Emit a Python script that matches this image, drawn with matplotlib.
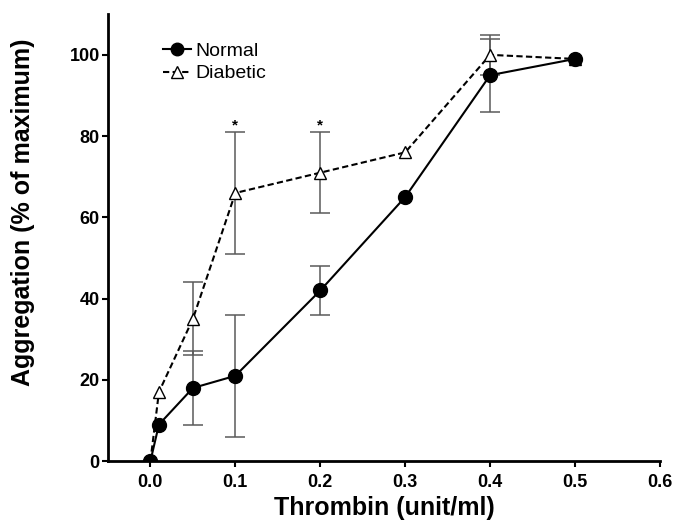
import numpy as np
import matplotlib.pyplot as plt

plt.rcParams['font.family'] = ['Liberation Sans', 'DejaVu Sans']

# Thrombin doses (unit/ml)
dose = [0.0, 0.01, 0.05, 0.1, 0.2, 0.3, 0.4, 0.5]

# Aggregation, % of maximum
normal = [0, 9, 18, 21, 42, 65, 95, 99]
normal_err = [0, 0, 9, 15, 6, 0, 9, 0]
diabetic = [0, 17, 35, 66, 71, 76, 100, 99]
diabetic_err = [0, 0, 9, 15, 10, 0, 5, 0]

# significance marks
sig_dose = [0.1, 0.2]
sig_y = [81, 81]

fig = plt.figure(figsize=(6.79, 5.27), dpi=100)
ax = fig.add_axes([0.159, 0.125, 0.813, 0.848])

# error bars only where there is an SD (grey, drawn under the markers)
for yv, ev in [(diabetic, diabetic_err), (normal, normal_err)]:
    d = np.array(dose)
    y = np.array(yv)
    e = np.array(ev)
    m = e > 0
    ax.errorbar(d[m], y[m], yerr=e[m], fmt='none', ecolor='#5a5a5a',
                elinewidth=1.1, capsize=7, capthick=1.1, zorder=1)

ax.plot(dose, diabetic, linestyle=(0, (3, 1.6)), color='black', lw=1.5, marker='^',
        markersize=9, markerfacecolor='white', markeredgecolor='black',
        markeredgewidth=1.0, label='Diabetic', zorder=3)
ax.plot(dose, normal, linestyle='-', color='black', lw=1.5, marker='o',
        markersize=10, markerfacecolor='black', markeredgecolor='black',
        label='Normal', zorder=4)

for x, y in zip(sig_dose, sig_y):
    ax.text(x, y, '*', ha='center', va='bottom', fontsize=11, fontweight='bold')

ax.set_xlim(-0.05, 0.6)
ax.set_ylim(0, 110)
ax.set_xticks([0.0, 0.1, 0.2, 0.3, 0.4, 0.5, 0.6])
ax.set_xticklabels(['0.0', '0.1', '0.2', '0.3', '0.4', '0.5', '0.6'])
ax.set_yticks([0, 20, 40, 60, 80, 100])

for s in ['top', 'right']:
    ax.spines[s].set_visible(False)
for s in ['left', 'bottom']:
    ax.spines[s].set_linewidth(2)
ax.tick_params(axis='both', width=1.5, length=4.5, labelsize=13)
ax.tick_params(axis='x', pad=4.5)
ax.tick_params(axis='y', pad=1.5)
for lab in ax.get_xticklabels() + ax.get_yticklabels():
    lab.set_fontweight('bold')

ax.set_xlabel('Thrombin (unit/ml)', fontsize=18, fontweight='bold', labelpad=4)
ax.set_ylabel('Aggregation (% of maximum)', fontsize=18, fontweight='bold')
ax.yaxis.set_label_coords(-0.132, 0.557)

h, l = ax.get_legend_handles_labels()
ax.legend(h[::-1], l[::-1], loc='upper left', bbox_to_anchor=(0.1, 0.937),
          frameon=False, fontsize=14, handlelength=1.45, handletextpad=0.2,
          labelspacing=0.25, borderaxespad=0, borderpad=0, markerscale=0.9)

fig.savefig('out.png', dpi=100)
